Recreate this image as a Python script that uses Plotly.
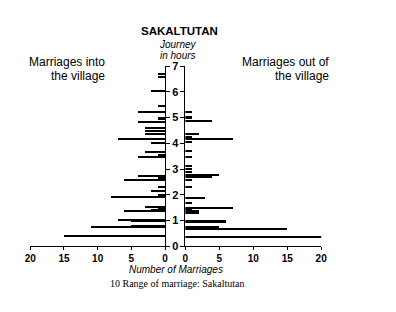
import plotly.graph_objects as go

# Marriages into the village: journey (hours) and number of marriages
hours_in = [6.68, 6.59, 6.02, 5.45, 5.2, 5.0, 4.96, 4.83, 4.58, 4.5, 4.35, 4.19, 4.02,
            3.67, 3.54, 3.48, 2.73, 2.64, 2.59, 2.32, 2.14, 2.0, 1.9, 1.53, 1.45, 1.42,
            1.37, 1.03, 0.98, 0.8, 0.74, 0.4]
counts_in = [1, 1, 2, 1, 4, 1, 1, 4, 3, 3, 3, 7, 2,
             3, 1, 4, 4, 1, 6, 1, 2, 1, 8, 3, 1, 2,
             6, 7, 5, 5, 11, 15]

# Marriages out of the village
hours_out = [5.2, 5.04, 4.97, 4.87, 4.35, 4.23, 4.17, 4.04, 3.7, 3.48, 3.13, 3.01, 2.88,
             2.76, 2.71, 2.59, 2.32, 1.87, 1.68, 1.49, 1.44, 1.39, 1.3, 1.0, 0.95, 0.75,
             0.68, 0.35]
counts_out = [1, 1, 1, 4, 2, 1, 7, 1, 1, 1, 1, 1, 1,
              5, 4, 1, 1, 3, 1, 7, 1, 2, 2, 6, 6, 5,
              15, 21]

x_ticks = [0, 5, 10, 15, 20]
y_ticks = [0, 1, 2, 3, 4, 5, 6, 7]

W, H = 396, 312
def px(x): return x / W
def py(y): return 1 - y / H

fig = go.Figure()
fig.add_trace(go.Bar(y=hours_in, x=counts_in, orientation="h", width=0.05,
                     marker=dict(color="black", line=dict(width=0)),
                     xaxis="x", yaxis="y", cliponaxis=False, showlegend=False))
fig.add_trace(go.Bar(y=hours_out, x=counts_out, orientation="h", width=0.05,
                     marker=dict(color="black", line=dict(width=0)),
                     xaxis="x2", yaxis="y2", cliponaxis=False, showlegend=False))

tickfont = dict(family="Liberation Sans", size=10, color="black", weight="bold")
ydom = [py(250), py(62.5)]
common_x = dict(showgrid=False, zeroline=False, showline=True, linecolor="black",
                linewidth=1.2, ticks="outside", ticklen=3, tickwidth=1.2,
                tickcolor="black", tickvals=x_ticks, tickfont=tickfont)
common_y = dict(showgrid=False, zeroline=False, showline=True, linecolor="black",
                linewidth=1.2, ticks="outside", ticklen=4, tickwidth=1.2,
                tickcolor="black", range=[0, 7], tickvals=y_ticks, domain=ydom)

fig.update_layout(
    width=W, height=H, margin=dict(l=0, r=0, t=0, b=0),
    paper_bgcolor="white", plot_bgcolor="white", bargap=0,
    xaxis=dict(domain=[px(25), px(164)], range=[20, 0], anchor="y", **common_x),
    xaxis2=dict(domain=[px(185), px(325)], range=[0, 20], anchor="y2", **common_x),
    yaxis=dict(anchor="x", side="right", showticklabels=True,
               tickfont=dict(family="Liberation Sans", size=11, color="black", weight="bold"),
               **common_y),
    yaxis2=dict(anchor="x2", side="left", showticklabels=False, **common_y),
)

def ann(text, x, y, size, xanchor="center", italic=False, bold=False, family="Liberation Sans"):
    fig.add_annotation(text=text, x=px(x), y=py(y), xref="paper", yref="paper",
                       xanchor=xanchor, yanchor="middle", showarrow=False,
                       font=dict(family=family, size=size, color="black",
                                 style="italic" if italic else "normal",
                                 weight="bold" if bold else "normal"))

ann("SAKALTUTAN", 179, 26, 11.5, bold=True)
ann("Journey", 177.5, 40, 10, italic=True)
ann("in hours", 177.5, 51, 10, italic=True)
ann("Marriages into", 104, 58, 12, xanchor="right")
ann("the village", 104, 72.5, 12, xanchor="right")
ann("Marriages out of", 335, 58, 12, xanchor="right")
ann("the village", 335, 72.5, 12, xanchor="right")
ann("Number of Marriages", 175, 274, 10, italic=True)
ann("10 Range of marriage: Sakaltutan", 176.5, 289, 10, family="Liberation Serif")

fig.write_html("out.html")
